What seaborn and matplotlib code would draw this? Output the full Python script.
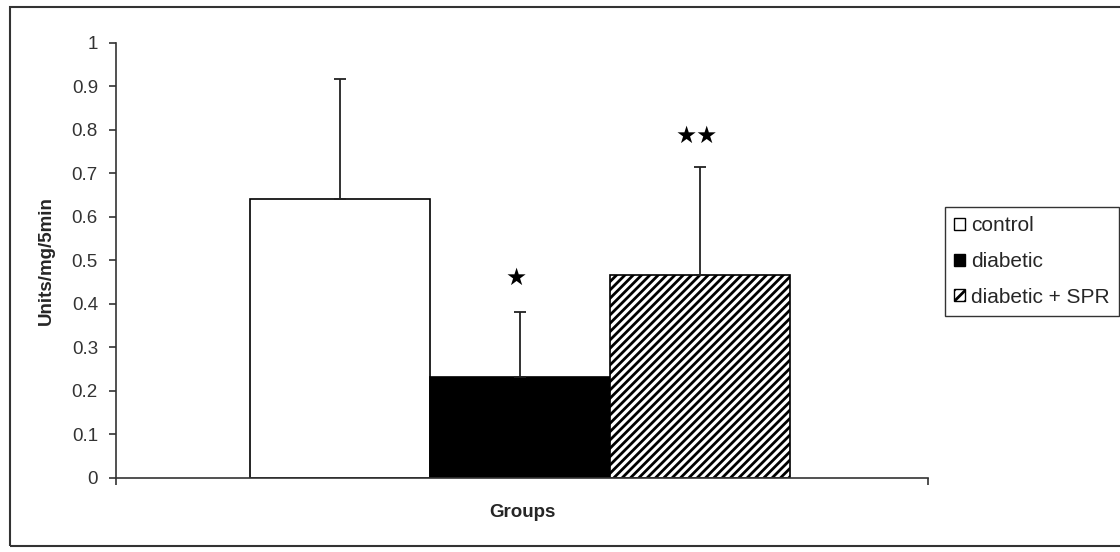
"""Bar chart: enzyme activity (Units/mg/5min) for control, diabetic and diabetic + SPR"""
import matplotlib
matplotlib.use('Agg')
import matplotlib.pyplot as plt
from matplotlib.patches import Patch, Rectangle
import seaborn as sns
import pandas as pd

# Data
conditions = ['control', 'diabetic', 'diabetic + SPR']
means = [0.641, 0.233, 0.467]
errors = [0.275, 0.149, 0.248]
stars = ['', '★', '★★']
star_y = [0.0, 0.459, 0.785]
yticks = [0, 0.1, 0.2, 0.3, 0.4, 0.5, 0.6, 0.7, 0.8, 0.9, 1]
ytick_labels = ['0', '0.1', '0.2', '0.3', '0.4', '0.5', '0.6', '0.7', '0.8', '0.9', '1']

sns.set_style('white')
plt.rcParams['font.family'] = ['Liberation Sans', 'DejaVu Sans']
plt.rcParams['hatch.linewidth'] = 2.0

df = pd.DataFrame({'condition': conditions, 'value': means})

fig = plt.figure(figsize=(11.2, 5.52), dpi=100)
ax = fig.add_axes([116 / 1120, 74 / 552, 812 / 1120, 435.5 / 552])

sns.barplot(data=df, x='condition', y='value', hue='condition',
            palette=['white', 'black', 'white'], width=1.0,
            edgecolor='black', linewidth=1.2, legend=False, ax=ax)
ax.patches[2].set_hatch('////')

# upper error bars only
xs = range(len(conditions))
ax.errorbar(xs, means, yerr=[[0] * 3, errors], fmt='none', ecolor='#222222',
            elinewidth=1.3, capsize=4.3, capthick=1.3)

# significance stars
for x, s, y in zip(xs, stars, star_y):
    if s:
        ax.text(x - 0.02, y, s, ha='center', va='center', fontsize=17,
                family=['DejaVu Sans'], color='black')

ax.set_xlim(-1.244, 3.267)
ax.set_ylim(0, 1)
ax.set_yticks(yticks)
ax.set_yticklabels(ytick_labels, fontsize=13.5, color='#333333')
ax.set_xticks([-1.244, 3.267])
ax.set_xticklabels(['', ''])
ax.tick_params(axis='both', direction='out', length=5, width=1.2, color='#333333',
               left=True, bottom=True)
ax.tick_params(axis='y', pad=8)

for side in ['top', 'right']:
    ax.spines[side].set_visible(False)
for side in ['left', 'bottom']:
    ax.spines[side].set_color('#333333')
    ax.spines[side].set_linewidth(1.2)

ax.set_xlabel('Groups', fontsize=13.5, fontweight='heavy', labelpad=10)
ax.set_ylabel('Units/mg/5min', fontsize=13.5, fontweight='heavy', labelpad=12)

handles = [Patch(facecolor='white', edgecolor='black', label='control'),
           Patch(facecolor='black', edgecolor='black', label='diabetic'),
           Patch(facecolor='white', edgecolor='black', hatch='///', label='diabetic + SPR')]
leg = fig.legend(handles=handles, loc='upper left', bbox_to_anchor=(945 / 1120, 345 / 552),
                 frameon=True, fancybox=False, fontsize=15, handlelength=0.5,
                 handleheight=0.5, handletextpad=0.3, labelspacing=0.8,
                 borderpad=0.45, borderaxespad=0)
leg.get_frame().set_edgecolor('black')
leg.get_frame().set_linewidth(1.0)

# outer frame of the chart area
fig.patches.append(Rectangle((10 / 1120, 6 / 552), 1.0, 539 / 552, transform=fig.transFigure,
                             fill=False, edgecolor='#333333', linewidth=1.5))

fig.savefig('out.png', dpi=100)
